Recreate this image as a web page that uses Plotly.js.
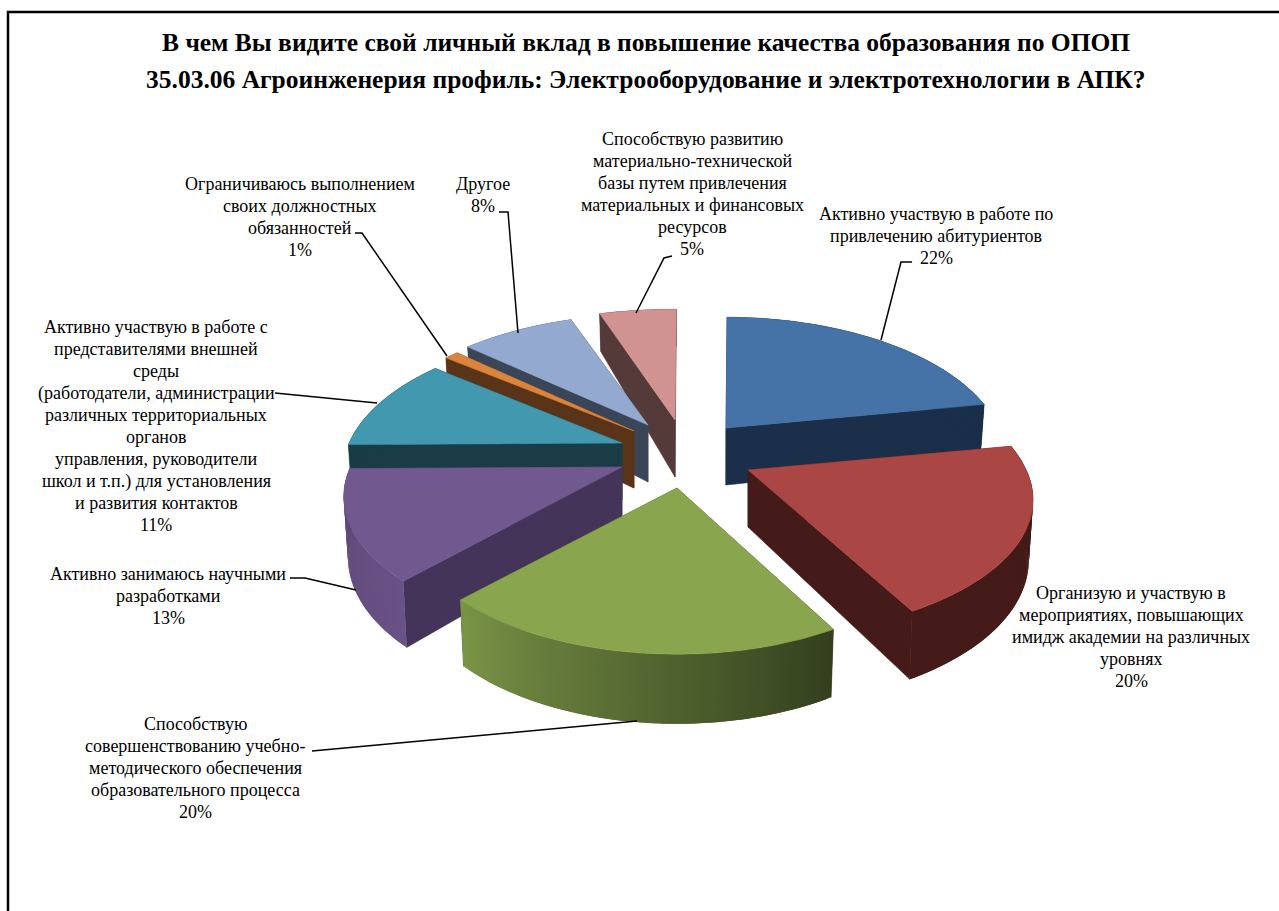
<!DOCTYPE html>
<html><head><meta charset="utf-8">
<script src="https://cdn.plot.ly/plotly-3.0.1.min.js"></script>
<style>html,body{margin:0;padding:0;background:#fff}#chart{width:1279px;height:911px}</style>
</head><body><div id="chart"></div>
<script>
// ---- data ----
const categories = [
  "Активно участвую в работе по|привлечению абитуриентов",
  "Организую и участвую в|мероприятиях, повышающих|имидж академии на различных|уровнях",
  "Способствую|совершенствованию учебно-|методического обеспечения|образовательного процесса",
  "Активно занимаюсь научными|разработками",
  "Активно участвую в работе с|представителями внешней|среды|(работодатели, администрации|различных территориальных|органов|управления, руководители|школ и т.п.) для установления|и развития контактов",
  "Ограничиваюсь выполнением|своих должностных|обязанностей",
  "Другое",
  "Способствую развитию|материально-технической|базы путем привлечения|материальных и финансовых|ресурсов"
];
const values = [22, 20, 20, 13, 11, 1, 8, 5];
const titleLines = [
  "В чем Вы видите свой личный вклад в повышение качества образования по ОПОП",
  "35.03.06 Агроинженерия профиль: Электрооборудование и электротехнологии в АПК?"
];

// ---- styling and layout ----
const topColors  = ["#4572a7","#aa4643","#89a54e","#71588f","#4198af","#db843d","#93a9cf","#d19392"];
const sideColors = ["#1b2f4a","#441b18","#3e4a22","#45345a","#1a3c47","#5a3418","#3a4658","#553a3a"];
const wallFrom   = ["#1b2f4a","#441b18","#7a9447","#6a5286","#1a3c47","#5a3418","#3a4658","#553a3a"];
const wallTo     = ["#1b2f4a","#441b18","#333f1e","#5d4776","#1a3c47","#5a3418","#3a4658","#553a3a"];
const apexX = [726,748,677,622,622,634,648,675];
const apexY = [428,470,488,467,443,431,425,420];
const radiusScale = [1.03,1.05,1,1.025,1.03,1.02,1.04,1.13];
const angleShift  = [0,0,0,-1,-1,-2,-2,0];
const drawOrder = [7,6,5,4,0,3,1,2];
const labelX = [936,1131,195,168,156,300,483,692];
const labelY = [214,593,724,574,327,184,184,139];
const labelPitch = 22;
const leaderPaths = [
  "M912,262 L901,262 L881,340",
  "M672,256 L664,258 L636,313",
  "M499,212 L508,212 L518,333",
  "M355,233 L362,233 L447,356",
  "M275,393 L377,403",
  "M290,578 L305,578 L356,590",
  "M312,751 L637,721"
];
const R = 265, K = 0.218, H = 57, startDeg = 0.3;

// ---- projection of the pie onto the page, driven by the values ----
const total = values.reduce((a,b)=>a+b,0);
function rim(i, deg, down){
  const t = deg*Math.PI/180, v = -Math.cos(t), s = 1/(1-K*v);
  const vert = v>0 ? 130 : 135;
  const x = R*radiusScale[i]*Math.sin(t)*s, y = vert*v*s;
  const g = v>0 ? 1+0.22*v : 1+0.35*v;
  return down ? [apexX[i]+x*0.985, apexY[i]+y+H*g] : [apexX[i]+x, apexY[i]+y];
}
function poly(pts, color, lw){
  return {type:"scatter", mode:"lines", x:pts.map(p=>p[0]), y:pts.map(p=>p[1]),
    fill:"toself", fillcolor:color, line:{color:color,width:lw}, hoverinfo:"skip", showlegend:false};
}
function mix(a,b,f){
  const h=c=>[1,3,5].map(k=>parseInt(c.substr(k,2),16));
  const A1=h(a),B1=h(b);
  return "rgb("+A1.map((v,k)=>Math.round(v+(B1[k]-v)*f)).join(",")+")";
}
const angles = []; let acc = startDeg;
values.forEach((v,i)=>{ angles.push([acc+angleShift[i], acc+v/total*360+angleShift[i]]); acc += v/total*360; });

const traces = [];
drawOrder.forEach(i=>{
  const [a0,a1] = angles[i];
  const ax=[apexX[i],apexY[i]];
  const axD=[apexX[i],apexY[i]+H];
  // radial faces
  [a0,a1].forEach(a=>traces.push(poly([ax,rim(i,a,false),rim(i,a,true),axD,ax],sideColors[i],0.6)));
  // outer wall in overlapping bands for the shading; green runs dark to light going clockwise
  const n = Math.max(2,Math.round((a1-a0)/0.8));
  for(let k=0;k<n;k++){
    const b0=a0+(a1-a0)*k/n, b1=Math.min(a1,a0+(a1-a0)*(k+1)/n+0.8);
    const f = (i===2) ? 1-(k+0.5)/n : (k+0.5)/n;
    const arc=[], back=[];
    for(let j=0;j<=3;j++){
      const a=b0+(b1-b0)*j/3;
      arc.push(rim(i,a,false)); back.unshift(rim(i,a,true));
    }
    traces.push(poly(arc.concat(back),mix(wallFrom[i],wallTo[i],f),0));
  }
  // top face
  const top=[ax];
  for(let k=0;k<=n;k++) top.push(rim(i,a0+(a1-a0)*k/n,false));
  top.push(ax);
  traces.push(poly(top,topColors[i],0.6));
});

// ---- text ----
const serif = "Liberation Serif, Times New Roman, serif";
const annotations = [];
titleLines.forEach((t,k)=>annotations.push({x:646,y:42+k*37,xref:"x",yref:"y",text:"<b>"+t+"</b>",showarrow:false,
  xanchor:"center",yanchor:"middle",font:{family:serif,size:25.5,color:"#000"}}));
categories.forEach((c,i)=>{
  const lines = c.split("|").concat(values[i]+"%");
  lines.forEach((t,k)=>annotations.push({x:labelX[i],y:labelY[i]+k*labelPitch,xref:"x",yref:"y",text:t,showarrow:false,
    xanchor:"center",yanchor:"middle",font:{family:serif,size:18,color:"#000"}}));
});

const shapes = leaderPaths.map(p=>({type:"path",path:p,xref:"x",yref:"y",line:{color:"#000",width:1.5},layer:"above"}));
shapes.push({type:"path",path:"M1279,12 L8,12 L8,911",xref:"x",yref:"y",line:{color:"#000",width:2.5},layer:"above"});

Plotly.newPlot("chart",traces,{
  width:1279,height:911,margin:{l:0,r:0,t:0,b:0},paper_bgcolor:"#fff",plot_bgcolor:"#fff",showlegend:false,
  xaxis:{range:[0,1279],visible:false,fixedrange:true},
  yaxis:{range:[911,0],visible:false,fixedrange:true},
  annotations,shapes
},{displayModeBar:false,staticPlot:true});
</script></body></html>
